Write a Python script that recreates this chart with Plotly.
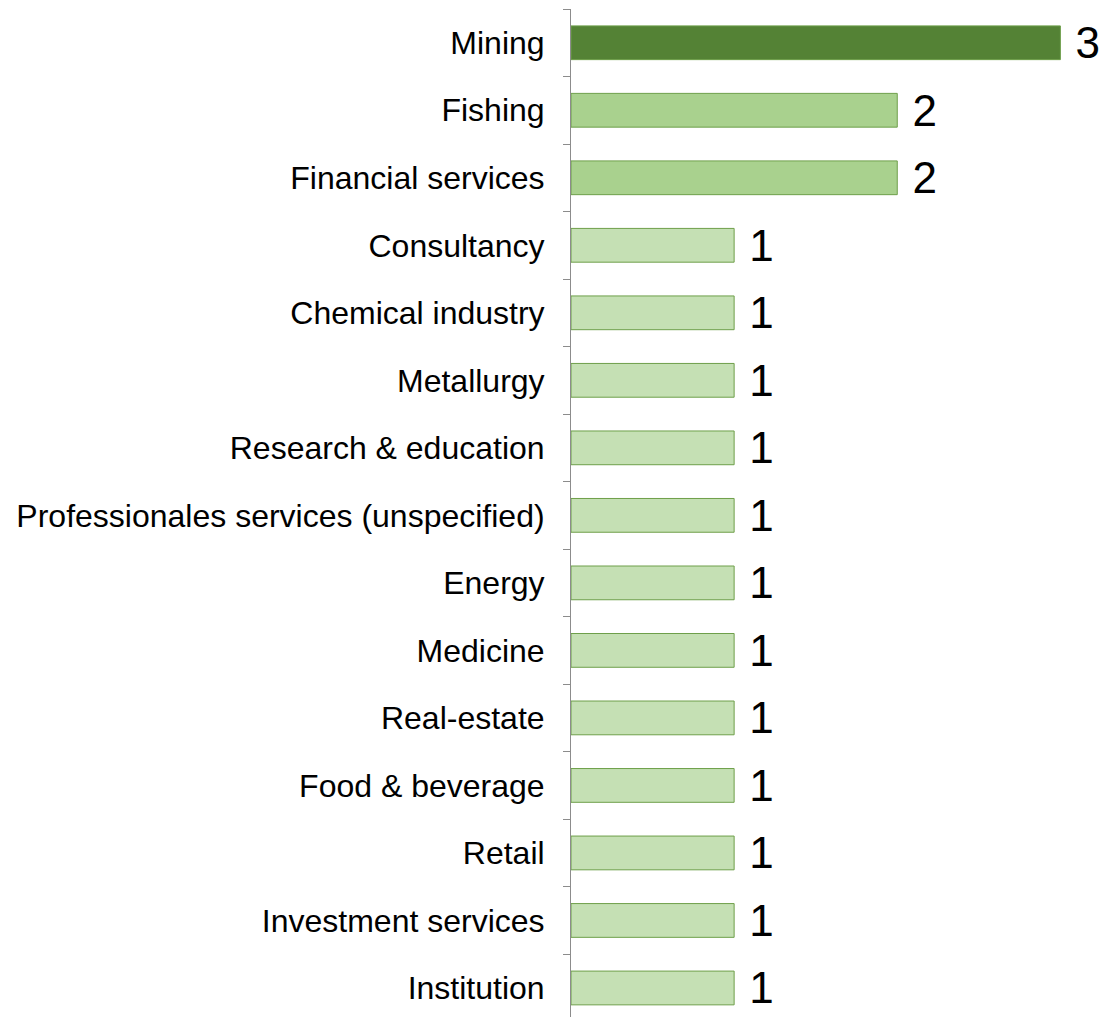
import plotly.graph_objects as go

# Sector counts, top to bottom
sectors = [
    "Mining", "Fishing", "Financial services", "Consultancy", "Chemical industry",
    "Metallurgy", "Research & education", "Professionales services (unspecified)",
    "Energy", "Medicine", "Real-estate", "Food & beverage", "Retail",
    "Investment services", "Institution",
]
counts = [3, 2, 2, 1, 1, 1, 1, 1, 1, 1, 1, 1, 1, 1, 1]

shade = {3: "#548235", 2: "#A9D18E", 1: "#C5E0B4"}
bar_colors = [shade[c] for c in counts]

fig = go.Figure(
    go.Bar(
        x=counts,
        y=sectors,
        orientation="h",
        width=0.5,
        marker=dict(color=bar_colors, line=dict(color="#6E9F4A", width=1)),
        text=[f" {c}" for c in counts],
        textposition="outside",
        constraintext="none",
        textfont=dict(size=44, color="#000000", family="Liberation Sans, Arial"),
        cliponaxis=False,
        hoverinfo="skip",
    )
)

fig.update_layout(
    width=1106,
    height=1017,
    margin=dict(l=571, r=13, t=9, b=0),
    plot_bgcolor="white",
    paper_bgcolor="white",
    showlegend=False,
    font=dict(family="Liberation Sans, Arial", color="#000000"),
    xaxis=dict(
        range=[0, 3.2],
        visible=False,
        fixedrange=True,
    ),
    yaxis=dict(
        type="category",
        range=[14.43, -0.5],
        showline=True,
        linecolor="#8C8C8C",
        linewidth=1,
        ticks="outside",
        ticklen=7,
        tickcolor="#8C8C8C",
        tickson="boundaries",
        tickfont=dict(size=32, color="#000000"),
        ticklabelstandoff=19,
        showgrid=False,
        zeroline=False,
        fixedrange=True,
    ),
)

fig.write_html("out.html")
